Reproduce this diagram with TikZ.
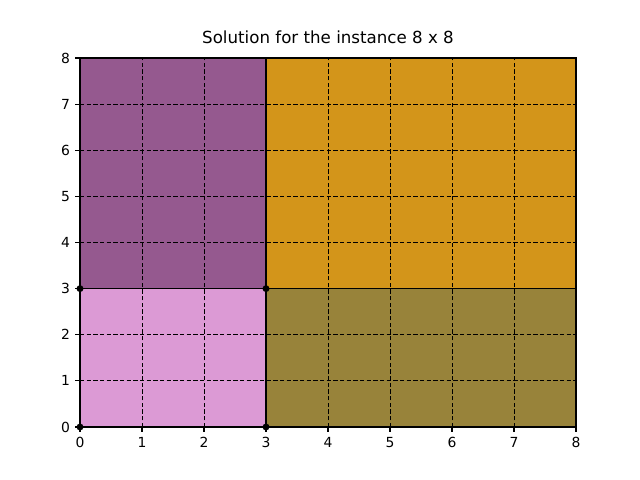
\documentclass[tikz,border=0pt]{standalone}
\usepackage{fontspec}
\setmainfont{DejaVu Sans}
\definecolor{cpurple}{RGB}{149,89,143}
\definecolor{corange}{RGB}{211,149,26}
\definecolor{cpink}{RGB}{220,154,213}
\definecolor{colive}{RGB}{152,131,58}
\begin{document}
\begin{tikzpicture}[
  cell/.style={draw=black, line width=1pt},
  gridline/.style={draw=black, line width=0.7pt, dash pattern=on 3.2pt off 1.6pt},
  tick/.style={draw=black, line width=0.8pt},
  ticklab/.style={font=\fontsize{10}{12}\selectfont, inner sep=0pt},
  corner/.style={circle, fill=black, inner sep=0pt, minimum size=5pt},
]
\useasboundingbox (0,0) rectangle (460.8pt,345.6pt);
\node[font=\fontsize{12}{14}\selectfont, anchor=base] (title) at (236.16pt,314.5pt) {Solution for the instance 8 x 8};
\begin{scope}[shift={(57.6pt,38.16pt)}, x=44.64pt, y=33.21pt]
  \fill[cpurple] (0,3) rectangle (3,8);
  \fill[corange] (3,3) rectangle (8,8);
  \fill[cpink] (0,0) rectangle (3,3);
  \fill[colive] (3,0) rectangle (8,3);
  \foreach \i in {1,...,7} {
    \draw[gridline] (\i,0) -- (\i,8);
    \draw[gridline] (0,\i) -- (8,\i);
  }
  \draw[cell] (0,3) rectangle (3,8);
  \draw[cell] (3,3) rectangle (8,8);
  \draw[cell] (0,0) rectangle (3,3);
  \draw[cell] (3,0) rectangle (8,3);
  \foreach \i in {0,...,8} {
    \draw[tick] (\i,0) -- ++(0,-3.5pt) coordinate (xt\i);
    \node[ticklab, anchor=north] (xl\i) at ([yshift=-3.5pt]xt\i) {\i};
    \draw[tick] (0,\i) -- ++(-3.5pt,0) coordinate (yt\i);
    \node[ticklab, anchor=east] (yl\i) at ([xshift=-3.5pt]yt\i) {\i};
  }
  \node[corner] (p00) at (0,0) {};
  \node[corner] (p03) at (0,3) {};
  \node[corner] (p30) at (3,0) {};
  \node[corner] (p33) at (3,3) {};
\end{scope}
\end{tikzpicture}
\end{document}
